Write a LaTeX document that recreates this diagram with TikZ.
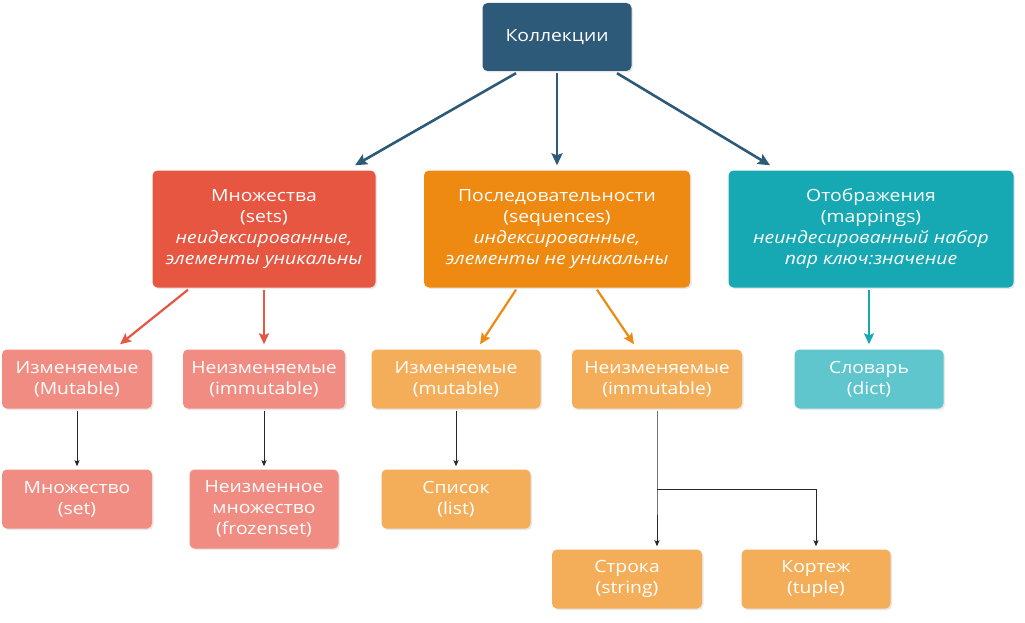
\documentclass[tikz,border=0pt]{standalone}
\usepackage{fontspec}
\setmainfont[FakeStretch=1.15]{Open Sans}
\usepackage{tikz}
\usetikzlibrary{arrows.meta, shadows}
\definecolor{rootblock}{RGB}{46, 90, 122}
\definecolor{setblock}{RGB}{231, 86, 65}
\definecolor{seqblock}{RGB}{238, 137, 17}
\definecolor{mapblock}{RGB}{22, 169, 180}
\definecolor{setleaf}{RGB}{241, 140, 130}
\definecolor{seqleaf}{RGB}{244, 174, 90}
\definecolor{mapleaf}{RGB}{96, 198, 205}
\definecolor{linkgray}{RGB}{40, 40, 40}

\begin{document}
\begin{tikzpicture}[x=1pt, y=-1pt,
		box/.style={rounded corners=5pt, text=white, align=center, inner sep=0pt,
			font=\fontsize{16.8}{21}\selectfont,
			drop shadow={opacity=0.18, shadow xshift=1.5pt, shadow yshift=-1.5pt}},
		bigarrow/.style={line width=2.6pt, -{Stealth[length=12pt, width=11pt, inset=2pt]}},
		midarrow/.style={line width=2.2pt, -{Stealth[length=11pt, width=10pt, inset=2pt]}},
		thinarrow/.style={linkgray, line width=0.9pt, -{Stealth[length=6pt, width=5pt, inset=1pt]}}]
		\useasboundingbox (0,0) rectangle (1025,623);
		
		% top level
		\node[box, fill=rootblock, minimum width=149pt, minimum height=68pt] (coll) at (557,37) {Коллекции};
		
		% second level
		\node[box, fill=setblock, minimum width=223pt, minimum height=117pt] (sets) at (264,229)
			{Множества\\(sets)\\\textit{неидексированные,}\\\textit{элементы уникальны}};
		\node[box, fill=seqblock, minimum width=266pt, minimum height=117pt] (seq) at (557,229)
			{Последовательности\\(sequences)\\\textit{индексированные,}\\\textit{элементы не уникальны}};
		\node[box, fill=mapblock, minimum width=285pt, minimum height=117pt] (map) at (871,229)
			{Отображения\\(mappings)\\\textit{неиндесированный набор}\\\textit{пар ключ:значение}};
		
		% third level
		\node[box, fill=setleaf, minimum width=150pt, minimum height=59pt] (setmut) at (77,379) {Изменяемые\\(Mutable)};
		\node[box, fill=setleaf, minimum width=162pt, minimum height=59pt] (setimm) at (264,379) {Неизменяемые\\(immutable)};
		\node[box, fill=seqleaf, minimum width=169pt, minimum height=59pt] (seqmut) at (456,379) {Изменяемые\\(mutable)};
		\node[box, fill=seqleaf, minimum width=170pt, minimum height=59pt] (seqimm) at (657,379) {Неизменяемые\\(immutable)};
		\node[box, fill=mapleaf, minimum width=149pt, minimum height=59pt] (dict) at (869,379) {Словарь\\(dict)};
		
		% leaves
		\node[box, fill=setleaf, minimum width=150pt, minimum height=59pt] (setbox) at (77,499) {Множество\\(set)};
		\node[box, fill=setleaf, minimum width=149pt, minimum height=79pt] (frozen) at (264,509) {Неизменное\\множество\\(frozenset)};
		\node[box, fill=seqleaf, minimum width=149pt, minimum height=59pt] (list) at (456,499) {Список\\(list)};
		\node[box, fill=seqleaf, minimum width=150pt, minimum height=59pt] (str) at (627,579) {Строка\\(string)};
		\node[box, fill=seqleaf, minimum width=149pt, minimum height=59pt] (tup) at (816,579) {Кортеж\\(tuple)};
		
		% arrows from the root
		\draw[bigarrow, rootblock] ([xshift=-41pt, yshift=-2pt]coll.south) -- ([xshift=91pt, yshift=5pt]sets.north);
		\draw[bigarrow, rootblock] ([yshift=-2pt]coll.south) -- ([yshift=5pt]seq.north);
		\draw[bigarrow, rootblock] ([xshift=60pt, yshift=-2pt]coll.south) -- ([xshift=-101pt, yshift=5pt]map.north);
		
		% arrows from the groups
		\draw[midarrow, setblock] ([xshift=-76pt, yshift=-2pt]sets.south) -- ([xshift=43pt, yshift=5pt]setmut.north);
		\draw[midarrow, setblock] ([yshift=-2pt]sets.south) -- ([yshift=5pt]setimm.north);
		\draw[midarrow, seqblock] ([xshift=-41pt, yshift=-2pt]seq.south) -- ([xshift=24pt, yshift=5pt]seqmut.north);
		\draw[midarrow, seqblock] ([xshift=40pt, yshift=-2pt]seq.south) -- ([xshift=-23pt, yshift=5pt]seqimm.north);
		\draw[midarrow, mapblock] ([xshift=-2pt, yshift=-2pt]map.south) -- ([yshift=5pt]dict.north);
		
		% thin arrows to the leaves
		\draw[thinarrow] ([yshift=-2pt]setmut.south) -- ([yshift=3pt]setbox.north);
		\draw[thinarrow] ([yshift=-2pt]setimm.south) -- ([yshift=3pt]frozen.north);
		\draw[thinarrow] ([yshift=-2pt]seqmut.south) -- ([yshift=3pt]list.north);
		\coordinate (fork) at (657,489);
		\draw[thinarrow] ([yshift=-2pt]seqimm.south) -- (fork) -- ([xshift=30pt, yshift=3pt]str.north);
		\draw[thinarrow] (fork) -| ([yshift=3pt]tup.north);
	\end{tikzpicture}
\end{document}
